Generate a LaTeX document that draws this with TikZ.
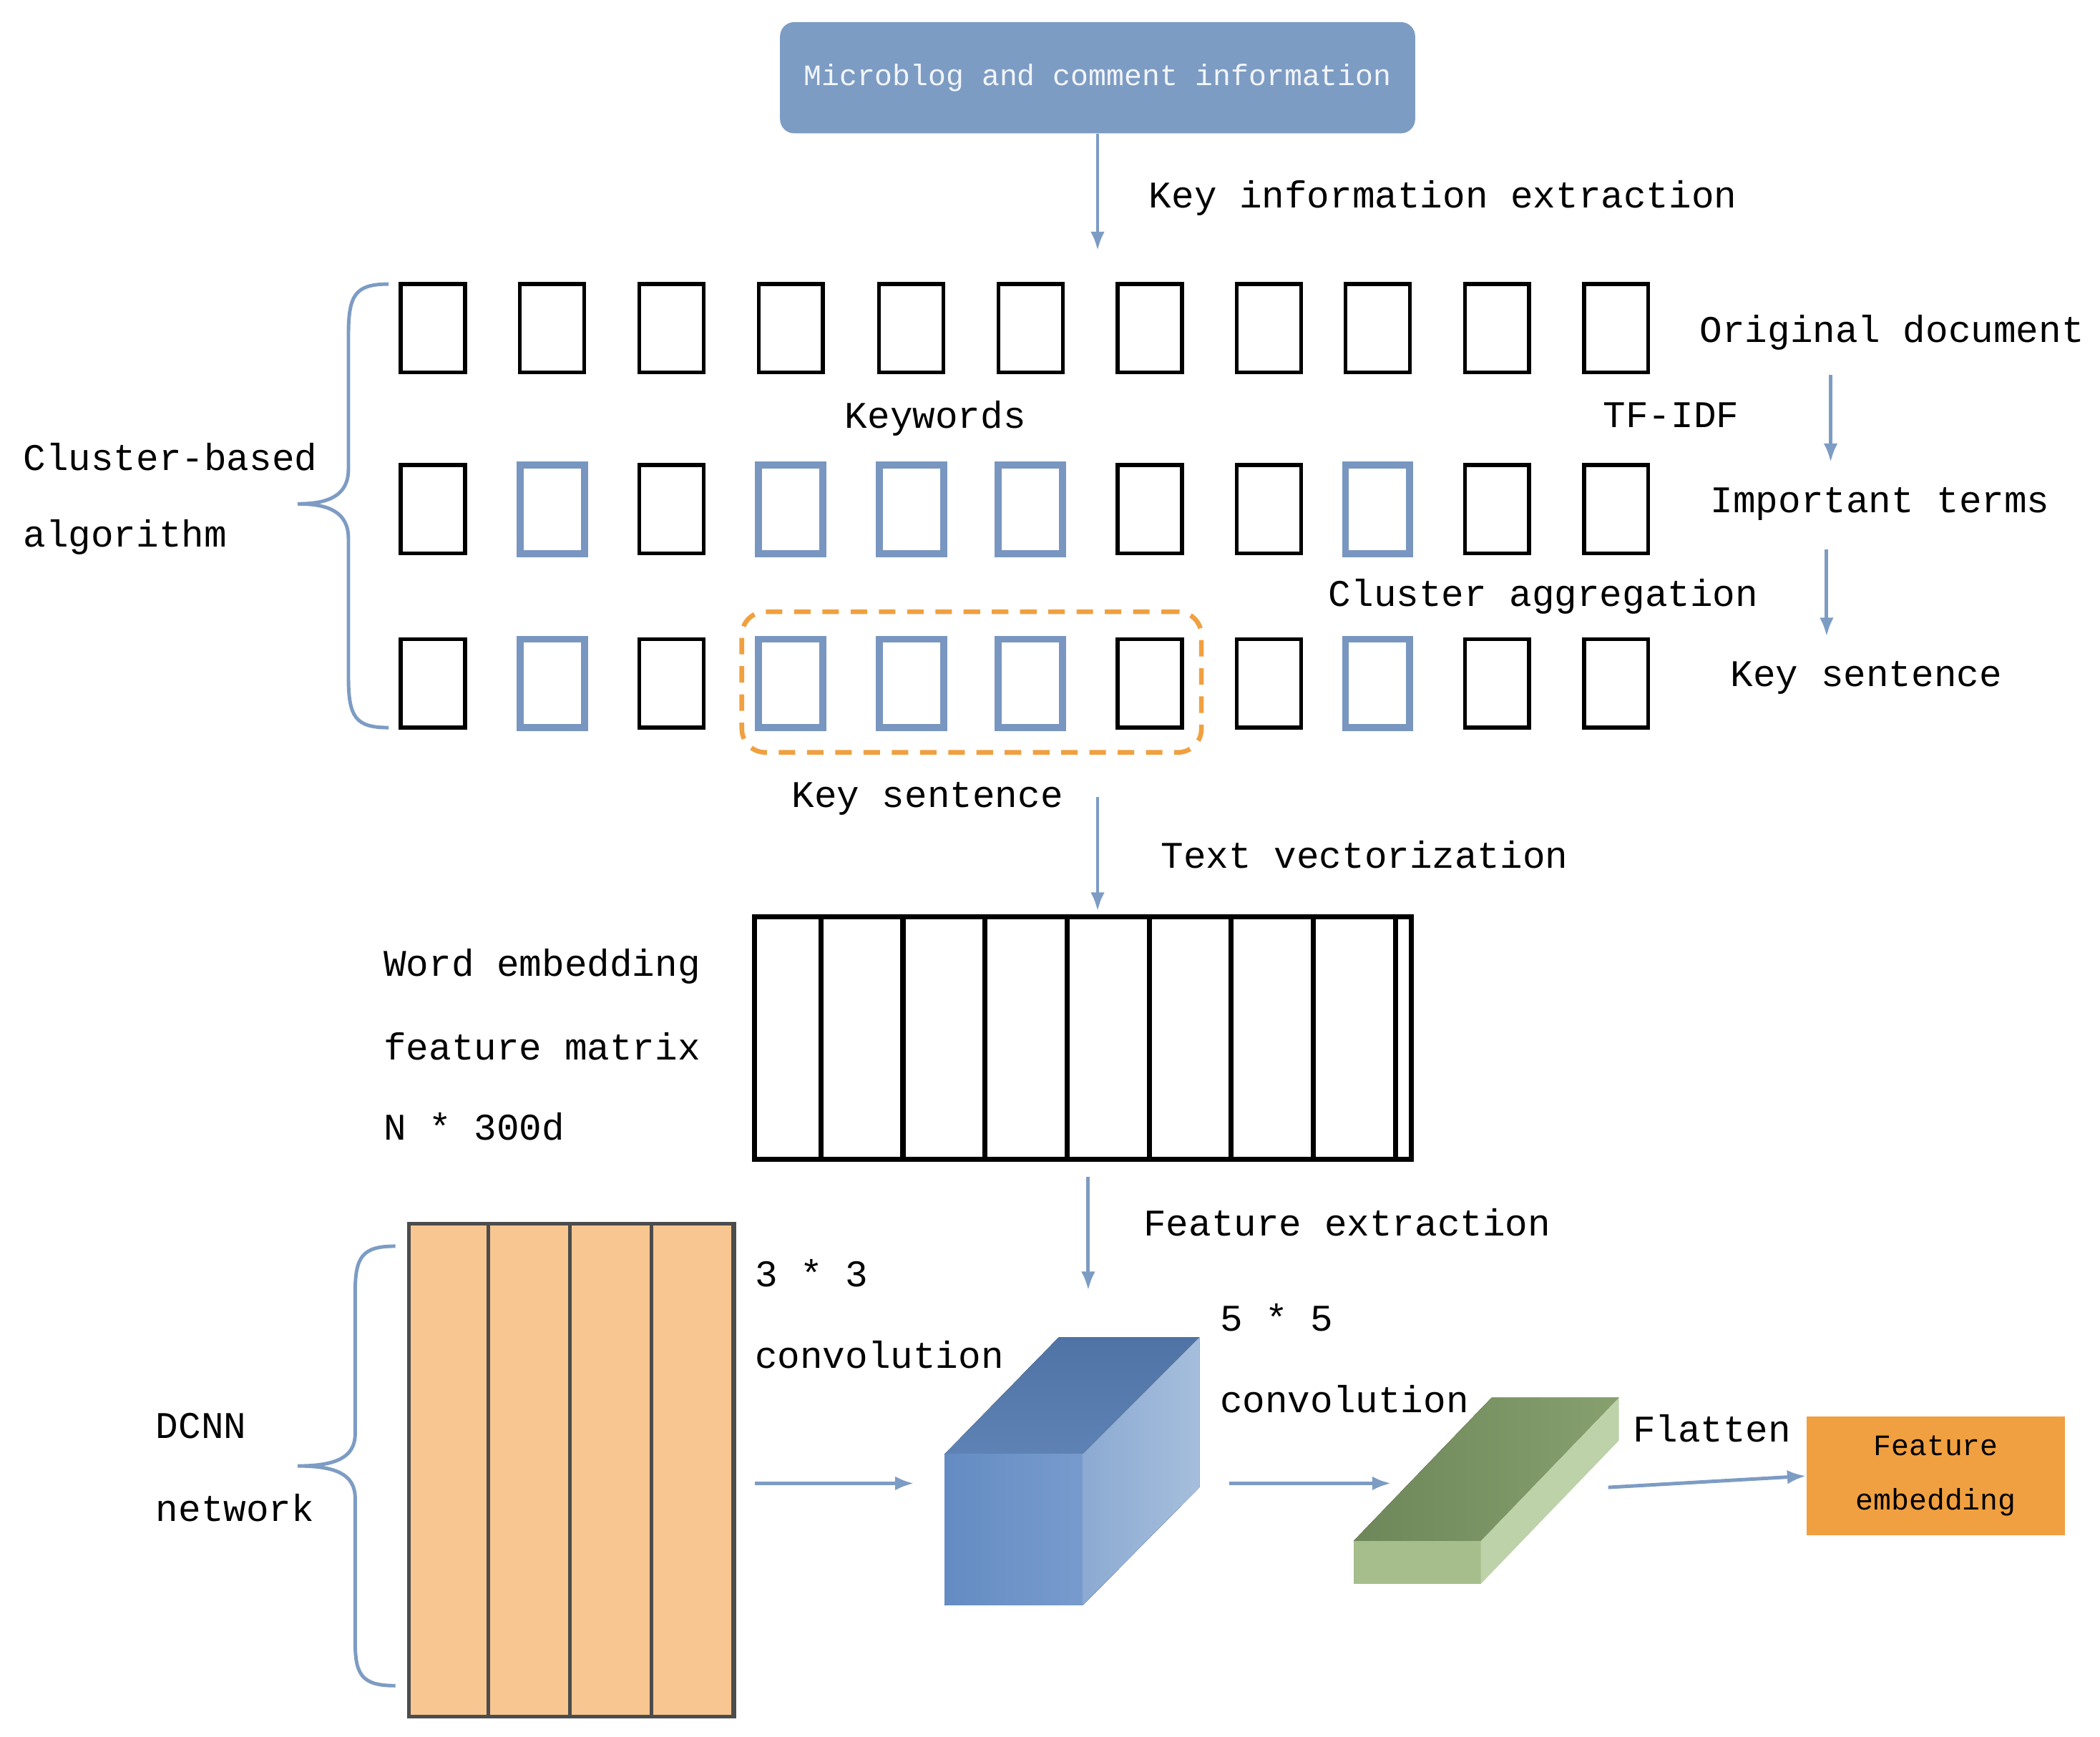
\documentclass[tikz,border=0pt]{standalone}
\usepackage{fontspec}
\setmainfont{Liberation Mono}
\usetikzlibrary{arrows.meta,decorations.pathreplacing}
\definecolor{bl}{HTML}{7D9CC4}
\definecolor{sq}{HTML}{7896C0}
\definecolor{og}{HTML}{F8C690}
\definecolor{ob}{HTML}{F0A040}
\definecolor{btA}{RGB}{80,115,165}
\definecolor{btB}{RGB}{95,130,180}
\definecolor{bfA}{RGB}{100,140,195}
\definecolor{bfB}{RGB}{120,155,205}
\definecolor{brA}{RGB}{140,170,210}
\definecolor{brB}{RGB}{165,190,220}
\definecolor{gtA}{RGB}{110,135,90}
\definecolor{gtB}{RGB}{135,160,110}
\definecolor{gf}{RGB}{165,190,140}
\definecolor{gr}{RGB}{190,210,170}
\begin{document}
\begin{tikzpicture}[x=0.02cm,y=-0.02cm,
  lbl/.style={font=\fontsize{16}{18}\selectfont,anchor=west,inner sep=0},
  arr/.style={draw=bl,line width=1.5pt,-{Latex[length=8pt,width=6pt]}},
  sqb/.style={draw=black,line width=1.6pt,inner sep=0,minimum width=0.96cm,minimum height=1.32cm},
  sqh/.style={draw=sq,line width=3pt,inner sep=0,minimum width=0.96cm,minimum height=1.32cm},
  brc/.style={draw=bl,line width=1.5pt}]
\useasboundingbox (0,0) rectangle (1567,1296);
\node[fill=bl,rounded corners=6pt,minimum width=9.48cm,minimum height=1.66cm,text=white!90!bl,font=\fontsize{12.6}{14}\selectfont] (top) at (819,58) {Microblog and comment information};
\coordinate (a1) at (819,187);
\draw[arr] (top.south) -- (a1);
\node[lbl] (kie) at (857,148) {Key information extraction};
\foreach \x [count=\i] in {323,412,501,590,680,769,858,947,1028,1117,1206}{
  \node[sqb] (r1-\i) at (\x,245) {};
}
\foreach \x/\s [count=\i] in {323/sqb,412/sqh,501/sqb,590/sqh,680/sqh,769/sqh,858/sqb,947/sqb,1028/sqh,1117/sqb,1206/sqb}{
  \node[\s] (r2-\i) at (\x,380) {};
  \node[\s] (r3-\i) at (\x,510) {};
}
\node[draw=ob,line width=2pt,dash pattern=on 7pt off 5pt,rounded corners=10pt,minimum width=6.86cm,minimum height=2.1cm] (ks) at (725,509) {};
\node[lbl] (od) at (1268,248) {Original document};
\node[lbl,anchor=center] (kw) at (698,312) {Keywords};
\node[lbl] (tf) at (1196,310) {TF-IDF};
\coordinate (t1) at (1366,280); \coordinate (t2) at (1366,345);
\draw[arr] (t1) -- (t2);
\node[lbl] (it) at (1276,376) {Important terms};
\node[lbl] (ca) at (991,445) {Cluster aggregation};
\coordinate (t3) at (1363,410); \coordinate (t4) at (1363,475);
\draw[arr] (t3) -- (t4);
\node[lbl] (ks1) at (1291,506) {Key sentence};
\node[lbl,anchor=center] (ks2) at (692,596) {Key sentence};
\draw[brc] (290,212) .. controls (265,212) and (260,220) .. (260,250) -- (260,350) .. controls (260,370) and (245,376) .. (222,376) .. controls (245,376) and (260,382) .. (260,402) -- (260,505) .. controls (260,535) and (265,543) .. (290,543);
\node[lbl] (cb) at (17,341) {Cluster-based};
\node[lbl] (al) at (17,401) {algorithm};
\coordinate (v1) at (819,595); \coordinate (v2) at (819,680);
\draw[arr] (v1) -- (v2);
\node[lbl] (tv) at (866,638) {Text vectorization};
\draw[line width=2.2pt] (563,684) grid[xstep=61.25,ystep=60.33] (1053,865);
\draw[line width=2.2pt] (563,684) rectangle (1053,865);
\node[lbl] (we) at (286,721) {Word embedding};
\node[lbl] (fm) at (286,781) {feature matrix};
\node[lbl] (nd) at (286,841) {N * 300d};
\coordinate (f1) at (812,878); \coordinate (f2) at (812,963);
\draw[arr] (f1) -- (f2);
\node[lbl] (fe) at (853,912) {Feature extraction};
\node[fill=og,minimum width=4.86cm,minimum height=7.36cm,inner sep=0] (og) at (426.5,1097) {};
\draw[draw=black!70,line width=1.5pt] (305,913) grid[xstep=60.75,ystep=61.33] (548,1281);
\draw[draw=black!70,line width=1.5pt] (305,913) rectangle (548,1281);
\draw[brc] (295,930) .. controls (270,930) and (265,938) .. (265,965) -- (265,1070) .. controls (265,1088) and (250,1094) .. (222,1094) .. controls (250,1094) and (265,1100) .. (265,1118) -- (265,1225) .. controls (265,1250) and (270,1258) .. (295,1258);
\node[lbl] (dc) at (116,1064) {DCNN};
\node[lbl] (nw) at (116,1125) {network};
\node[lbl] (c3) at (563,950) {3 * 3};
\node[lbl] (c3b) at (563,1011) {convolution};
\coordinate (b1) at (705,1085); \coordinate (b2) at (808,1085);
\coordinate (b3) at (895,998); \coordinate (b4) at (790,998);
\coordinate (b5) at (808,1198); \coordinate (b6) at (705,1198); \coordinate (b7) at (895,1110);
\fill[top color=btA,bottom color=btB] (b1)--(b2)--(b3)--(b4)--cycle;
\fill[left color=bfA,right color=bfB] (b1)--(b2)--(b5)--(b6)--cycle;
\fill[left color=brA,right color=brB] (b2)--(b3)--(b7)--(b5)--cycle;
\coordinate (ca1) at (563,1107); \coordinate (ca2) at (682,1107);
\draw[arr] (ca1) -- (ca2);
\node[lbl] (c5) at (910,983) {5 * 5};
\node[lbl] (c5b) at (910,1044) {convolution};
\coordinate (cb1) at (917,1107); \coordinate (cb2) at (1038,1107);
\draw[arr] (cb1) -- (cb2);
\coordinate (g1) at (1010,1150); \coordinate (g2) at (1105,1150);
\coordinate (g3) at (1208,1043); \coordinate (g4) at (1113,1043);
\coordinate (g5) at (1105,1182); \coordinate (g6) at (1010,1182); \coordinate (g7) at (1208,1075);
\fill[left color=gtA,right color=gtB] (g1)--(g2)--(g3)--(g4)--cycle;
\fill[gf] (g1)--(g2)--(g5)--(g6)--cycle;
\fill[gr] (g2)--(g3)--(g7)--(g5)--cycle;
\node[lbl] (fl) at (1218,1066) {Flatten};
\node[fill=ob,minimum width=3.86cm,minimum height=1.78cm,align=center,font=\fontsize{12.6}{23}\selectfont] (emb) at (1444.5,1101.5) {Feature\\embedding};
\coordinate (cc1) at (1200,1110);
\draw[arr] (cc1) -- (emb.west);
\end{tikzpicture}
\end{document}
